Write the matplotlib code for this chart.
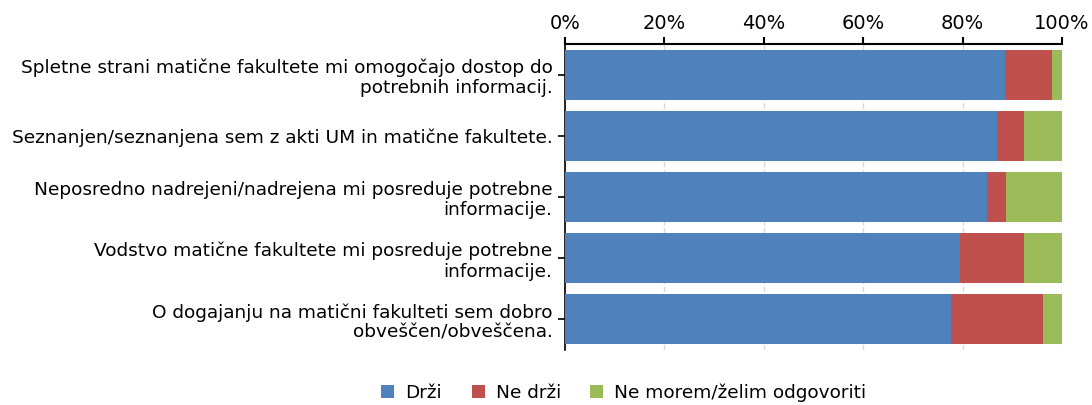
import matplotlib
matplotlib.use("Agg")
import matplotlib.pyplot as plt
from matplotlib.ticker import FuncFormatter, MultipleLocator

categories = [
    "Spletne strani matične fakultete mi omogočajo dostop do\npotrebnih informacij.",
    "Seznanjen/seznanjena sem z akti UM in matične fakultete.",
    "Neposredno nadrejeni/nadrejena mi posreduje potrebne\ninformacije.",
    "Vodstvo matične fakultete mi posreduje potrebne\ninformacije.",
    "O dogajanju na matični fakulteti sem dobro\nobveščen/obveščena.",
]
series_names = ["Drži", "Ne drži", "Ne morem/želim odgovoriti"]
drzi = [88.5, 86.9, 85.0, 79.5, 77.7]
ne_drzi = [9.4, 5.4, 3.7, 12.8, 18.4]
ne_morem = [2.1, 7.7, 11.3, 7.7, 3.9]
colors = ["#4F81BD", "#C0504D", "#9BBB59"]

plt.rcParams["font.family"] = ["DejaVu Sans"]
fig = plt.figure(figsize=(10.92, 4.05), dpi=100)
ax = fig.add_axes([565/1092, 1-350/405, (1062-565)/1092, (350-44)/405])

ypos = list(range(len(categories)))
left = [0]*len(categories)
for name, vals, c in zip(series_names, [drzi, ne_drzi, ne_morem], colors):
    ax.barh(ypos, vals, left=left, height=0.82, color=c, label=name, zorder=3)
    left = [l+v for l, v in zip(left, vals)]

ax.set_xlim(0, 100)
ax.set_ylim(len(categories)-0.5, -0.5)
ax.set_yticks(ypos)
ax.set_yticklabels(categories, fontsize=13.3, ha="right", linespacing=1.15)
ax.xaxis.set_major_locator(MultipleLocator(20))
ax.xaxis.set_major_formatter(FuncFormatter(lambda v, p: f"{int(v)}%"))
ax.xaxis.tick_top()
ax.tick_params(axis="x", labelsize=14, direction="out", length=5, width=1.5, pad=3)
ax.tick_params(axis="y", direction="out", length=5, width=1.2, pad=4)
ax.grid(axis="x", color="#d9d9d9", linestyle=(0, (4, 2)), linewidth=1, zorder=0)
for s in ["right", "bottom"]:
    ax.spines[s].set_visible(False)
ax.spines["top"].set_linewidth(1.5)
ax.spines["left"].set_linewidth(1.2)

fig.legend(loc="center", bbox_to_anchor=(624/1092, 1-393/405), ncol=3, frameon=False,
           fontsize=13.3, handlelength=0.7, handleheight=0.7, columnspacing=1.6, handletextpad=0.6)
fig.savefig("out.png", dpi=100)
